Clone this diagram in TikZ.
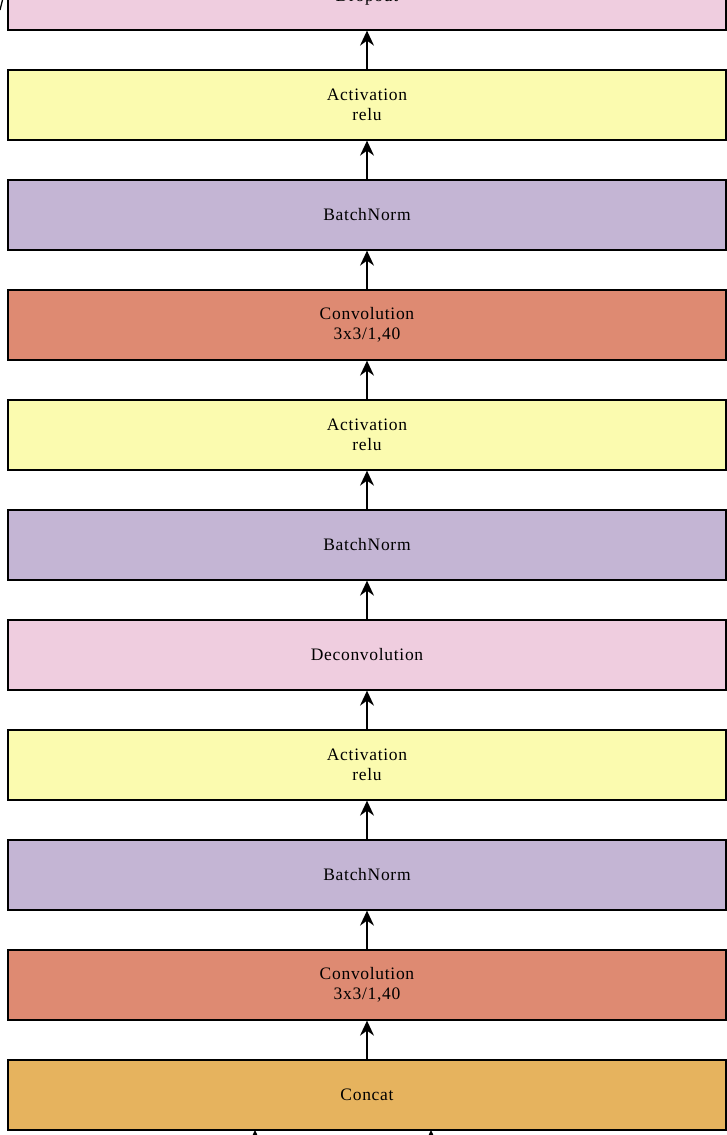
\documentclass[tikz,border=0pt]{standalone}
\usepackage{fontspec}
\setmainfont{Liberation Serif}[LetterSpace=4]
\usetikzlibrary{arrows.meta}
\definecolor{cact}{HTML}{FBFBAF}
\definecolor{cbn}{HTML}{C4B5D4}
\definecolor{cconv}{HTML}{DE8A72}
\definecolor{cpink}{HTML}{EFCDDF}
\definecolor{ccat}{HTML}{E6B35E}
\tikzset{
  layer/.style={draw=black, line width=1.3pt, minimum width=718pt, minimum height=70pt,
    inner sep=0pt, align=center, font=\fontsize{17.5}{20}\selectfont},
  arr/.style={line width=1.3pt, -{Stealth[length=15pt,width=14pt,inset=5pt]}},
}
\begin{document}
\begin{tikzpicture}[x=1pt,y=-1pt]
\useasboundingbox (0,0) rectangle (727,1135);
\clip (0,0) rectangle (727,1135);
\node[layer, fill=cpink] (drop) at (367,-5) {\raisebox{-6pt}[0pt][0pt]{Dropout}};
\node[layer, fill=cact] (act3) at (367,105) {Activation\\relu};
\node[layer, fill=cbn] (bn3) at (367,215) {BatchNorm};
\node[layer, fill=cconv] (conv2) at (367,325) {Convolution\\3x3/1,40};
\node[layer, fill=cact] (act2) at (367,435) {Activation\\relu};
\node[layer, fill=cbn] (bn2) at (367,545) {BatchNorm};
\node[layer, fill=cpink] (deconv) at (367,655) {Deconvolution};
\node[layer, fill=cact] (act1) at (367,765) {Activation\\relu};
\node[layer, fill=cbn] (bn1) at (367,875) {BatchNorm};
\node[layer, fill=cconv] (conv1) at (367,985) {Convolution\\3x3/1,40};
\node[layer, fill=ccat] (cat) at (367,1095) {Concat};
\draw[arr] (act3.north) -- (drop.south);
\draw[arr] (bn3.north) -- (act3.south);
\draw[arr] (conv2.north) -- (bn3.south);
\draw[arr] (act2.north) -- (conv2.south);
\draw[arr] (bn2.north) -- (act2.south);
\draw[arr] (deconv.north) -- (bn2.south);
\draw[arr] (act1.north) -- (deconv.south);
\draw[arr] (bn1.north) -- (act1.south);
\draw[arr] (conv1.north) -- (bn1.south);
\draw[arr] (cat.north) -- (conv1.south);
\coordinate (inA) at (255,1200);
\coordinate (inB) at (431,1200);
\coordinate (catA) at (255,1130);
\coordinate (catB) at (431,1130);
\draw[arr] (inA) -- (catA);
\draw[arr] (inB) -- (catB);
\coordinate (outA) at (3,-2);
\coordinate (outB) at (0,10);
\draw[line width=1.3pt] (outA) -- (outB);
\end{tikzpicture}
\end{document}
